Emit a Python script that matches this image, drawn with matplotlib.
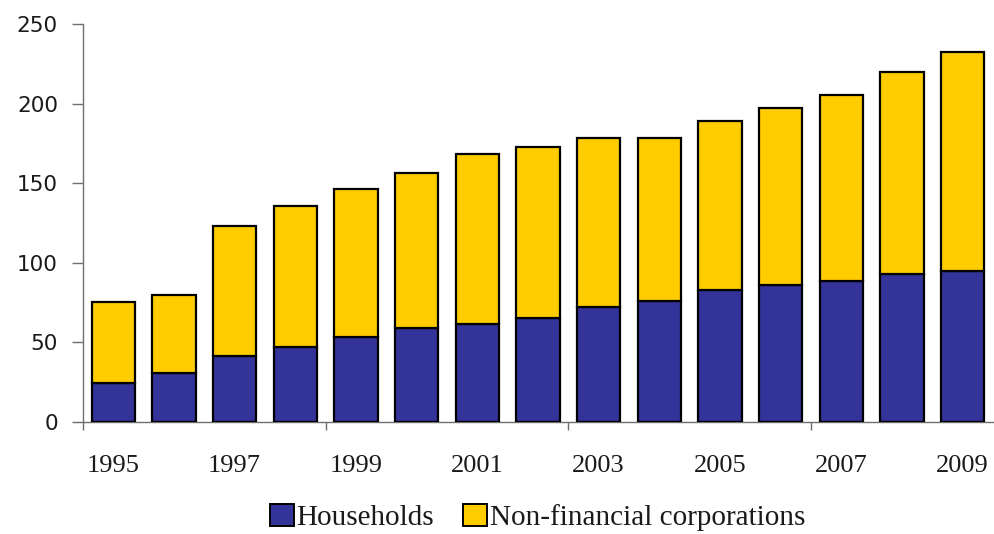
import matplotlib
matplotlib.use("Agg")
import matplotlib.pyplot as plt
from matplotlib.patches import Patch
import numpy as np

years = [1995, 1996, 1997, 1998, 1999, 2000, 2001, 2002,
         2003, 2004, 2005, 2006, 2007, 2008, 2009]
households = [24.7, 31.0, 41.4, 47.3, 53.6, 59.4, 61.5, 65.5,
              72.0, 75.9, 82.8, 86.0, 88.9, 93.1, 95.2]
non_financial = [51.0, 49.0, 82.0, 88.3, 92.8, 97.1, 107.1, 107.1,
                 106.8, 102.9, 106.5, 111.7, 116.7, 127.2, 137.2]
series_names = ["Households", "Non-financial corporations"]
y_ticks = [0, 50, 100, 150, 200, 250]

navy = "#333399"
gold = "#FFCC00"
axis_grey = "#6e6e6e"
text_col = "#1a1a1a"

serif = ["Liberation Serif", "DejaVu Serif"]
sans = ["DejaVu Sans"]
plt.rcParams["font.family"] = serif

fig = plt.figure(figsize=(9.94, 5.34), dpi=100)
ax = fig.add_axes([0.0835, 0.2097, 0.9155, 0.7448])

x = np.arange(len(years))
bw = 0.71
ax.bar(x, households, bw, color=navy, edgecolor="black", linewidth=1.6, zorder=3)
ax.bar(x, non_financial, bw, bottom=households, color=gold, edgecolor="black",
       linewidth=1.6, zorder=3)

ax.set_xlim(-0.5, len(years) - 0.5)
ax.set_ylim(0, 250)

for side in ("top", "right"):
    ax.spines[side].set_visible(False)
for side in ("left", "bottom"):
    ax.spines[side].set_color(axis_grey)
    ax.spines[side].set_linewidth(1.0)

ax.set_yticks(y_ticks)
ax.set_yticklabels([str(v) for v in y_ticks], fontsize=15.5, color=text_col,
                   family=sans)
ax.tick_params(axis="y", direction="out", length=8, width=1.0,
               color=axis_grey, pad=10)

# tick marks sit between every fourth year; labels under every other bar
ax.set_xticks(np.arange(-0.5, len(years), 4))
ax.set_xticklabels([])
ax.tick_params(axis="x", which="major", direction="out", length=6,
               width=1.0, color=axis_grey)
ax.set_xticks(x[::2], minor=True)
ax.set_xticklabels([str(y) for y in years[::2]], minor=True, fontsize=19,
                   color=text_col)
ax.tick_params(axis="x", which="minor", length=0, pad=24)

handles = [Patch(facecolor=navy, edgecolor="black", linewidth=1.4),
           Patch(facecolor=gold, edgecolor="black", linewidth=1.4)]
fig.legend(handles, series_names, loc="upper center",
           bbox_to_anchor=(0.541, 0.056), ncol=2, frameon=False,
           fontsize=21, handlelength=0.8, handleheight=0.8,
           handletextpad=0.1, columnspacing=1.0, borderpad=0,
           borderaxespad=0, labelcolor=text_col)

fig.savefig("out.png", dpi=100)
